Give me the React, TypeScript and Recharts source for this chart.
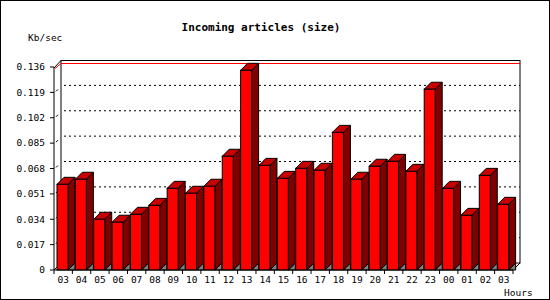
import React from "react";
import { BarChart, Bar, XAxis, YAxis, CartesianGrid } from "recharts";

const hours = ["03", "04", "05", "06", "07", "08", "09", "10", "11", "12", "13", "14", "15", "16", "17", "18", "19", "20", "21", "22", "23", "00", "01", "02", "03"];
const kbPerSec = [0.0574, 0.0608, 0.034, 0.032, 0.0373, 0.0433, 0.0547, 0.0514, 0.0561, 0.0762, 0.1338, 0.0701, 0.0614, 0.0681, 0.0668, 0.0922, 0.0608, 0.0695, 0.0728, 0.0661, 0.1211, 0.0547, 0.0366, 0.0634, 0.044];
const yTicks = [0, 0.017, 0.034, 0.051, 0.068, 0.085, 0.102, 0.119, 0.136];

const data = hours.map((h, i) => ({ hour: h, kb: kbPerSec[i] }));

// layout of the plot (front face)
const W = 550;
const H = 300;
const LEFT = 54;
const TOP = 67;
const RIGHT = 37;
const X_AXIS_H = 30;
const BOTTOM = H - X_AXIS_H;
const PLOT_R = W - RIGHT;
const D = 7; // 3d depth
const FONT = "'DejaVu Sans Mono', monospace";

function Bar3D(props: any) {
  const { x, y, width, height } = props;
  if (height == null || isNaN(y)) return null;
  const x0 = x - 1;
  const w = width;
  const b = y + height;
  return (
    <g stroke="#000" strokeWidth={1}>
      <polygon points={`${x0 + w},${b} ${x0 + w + D},${b - D} ${x0 + w + D},${b} `} fill="#808080" />
      <polygon points={`${x0 + w},${y} ${x0 + w + D},${y - D} ${x0 + w + D},${b - D} ${x0 + w},${b}`} fill="#800000" />
      <polygon points={`${x0},${y} ${x0 + D},${y - D} ${x0 + w + D},${y - D} ${x0 + w},${y}`} fill="#c80000" />
      <rect x={x0} y={y} width={w} height={height} fill="#ff0000" />
    </g>
  );
}

function GridLine(props: any) {
  const { x1, y1, x2 } = props;
  if (Math.abs(y1 - BOTTOM) < 1) return <g />;
  if (Math.abs(y1 - TOP) < 1) {
    return (
      <g>
        <line x1={x1 + D} y1={y1 - 3.5} x2={x2 + D} y2={y1 - 3.5} stroke="#ff0000" />
        <line x1={x1 + 1} y1={y1 + 1.5} x2={x1 + D} y2={y1 - 3.5} stroke="#ff0000" />
      </g>
    );
  }
  return (
    <g>
      <line x1={x1 + D + 3} y1={y1 - D} x2={x2 + D} y2={y1 - D} stroke="#000" strokeDasharray="2 3" />
      <line x1={x1 + 2} y1={y1 - 1} x2={x1 + 4} y2={y1 - 3} stroke="#000" />
    </g>
  );
}

function HourTick(props: any) {
  const { x, y, payload, index, visibleTicksCount } = props;
  const half = payload && payload.offset ? payload.offset : (PLOT_R - LEFT) / hours.length / 2;
  return (
    <g>
      <line x1={x - half} y1={y} x2={x - half} y2={y + 4} stroke="#000" />
      {index === visibleTicksCount - 1 && <line x1={x + half} y1={y} x2={x + half} y2={y + 4} stroke="#000" />}
      <text x={x} y={y + 13} textAnchor="middle" fontFamily={FONT} fontSize={9.5} fill="#000">
        {payload.value}
      </text>
    </g>
  );
}

function Walls() {
  return (
    <svg width={W} height={H} style={{ position: "absolute", left: 0, top: 0 }}>
      <rect x={LEFT + D} y={TOP - D + 0.5} width={PLOT_R - LEFT} height={BOTTOM - TOP - 0.5} fill="#fff" stroke="#000" />
      <line x1={LEFT} y1={TOP + 1} x2={LEFT + D} y2={TOP - D + 0.5} stroke="#000" />
      <line x1={LEFT} y1={BOTTOM} x2={LEFT + D} y2={BOTTOM - D} stroke="#000" />
      <line x1={PLOT_R} y1={BOTTOM} x2={PLOT_R + D} y2={BOTTOM - D} stroke="#000" />
      <text x={261} y={31} textAnchor="middle" fontFamily={FONT} fontSize={11} fontWeight="bold">
        Incoming articles (size)
      </text>
      <text x={28} y={41} fontFamily={FONT} fontSize={9.5}>
        Kb/sec
      </text>
      <text x={504} y={296} fontFamily={FONT} fontSize={9.5}>
        Hours
      </text>
    </svg>
  );
}

export default function App() {
  return (
    <div style={{ position: "absolute", left: 0, top: 0, width: W, height: H, background: "#fff" }}>
      <Walls />
      <div style={{ position: "absolute", left: 0, top: 0 }}>
        <BarChart
          width={W}
          height={H}
          data={data}
          margin={{ top: TOP, right: RIGHT, left: 0, bottom: 0 }}
          barSize={11}
        >
          <CartesianGrid vertical={false} horizontal={GridLine} />
          <XAxis
            dataKey="hour"
            height={X_AXIS_H}
            interval={0}
            tickLine={false}
            tickSize={0}
            tickMargin={0}
            axisLine={{ stroke: "#000" }}
            tick={HourTick}
          />
          <YAxis
            width={LEFT}
            domain={[0, 0.136]}
            ticks={yTicks}
            interval={0}
            tickSize={4}
            tickMargin={5}
            axisLine={{ stroke: "#000" }}
            tickLine={{ stroke: "#000" }}
            tick={{ fill: "#000", fontSize: 9.5, fontFamily: FONT }}
            tickFormatter={(v: number) => (v === 0 ? "0" : v.toFixed(3))}
          />
          <Bar dataKey="kb" shape={Bar3D} isAnimationActive={false} />
        </BarChart>
      </div>
      <div style={{ position: "absolute", left: 0, top: 0, width: W, height: H, boxSizing: "border-box", border: "1px solid #000", pointerEvents: "none" }} />
    </div>
  );
}
